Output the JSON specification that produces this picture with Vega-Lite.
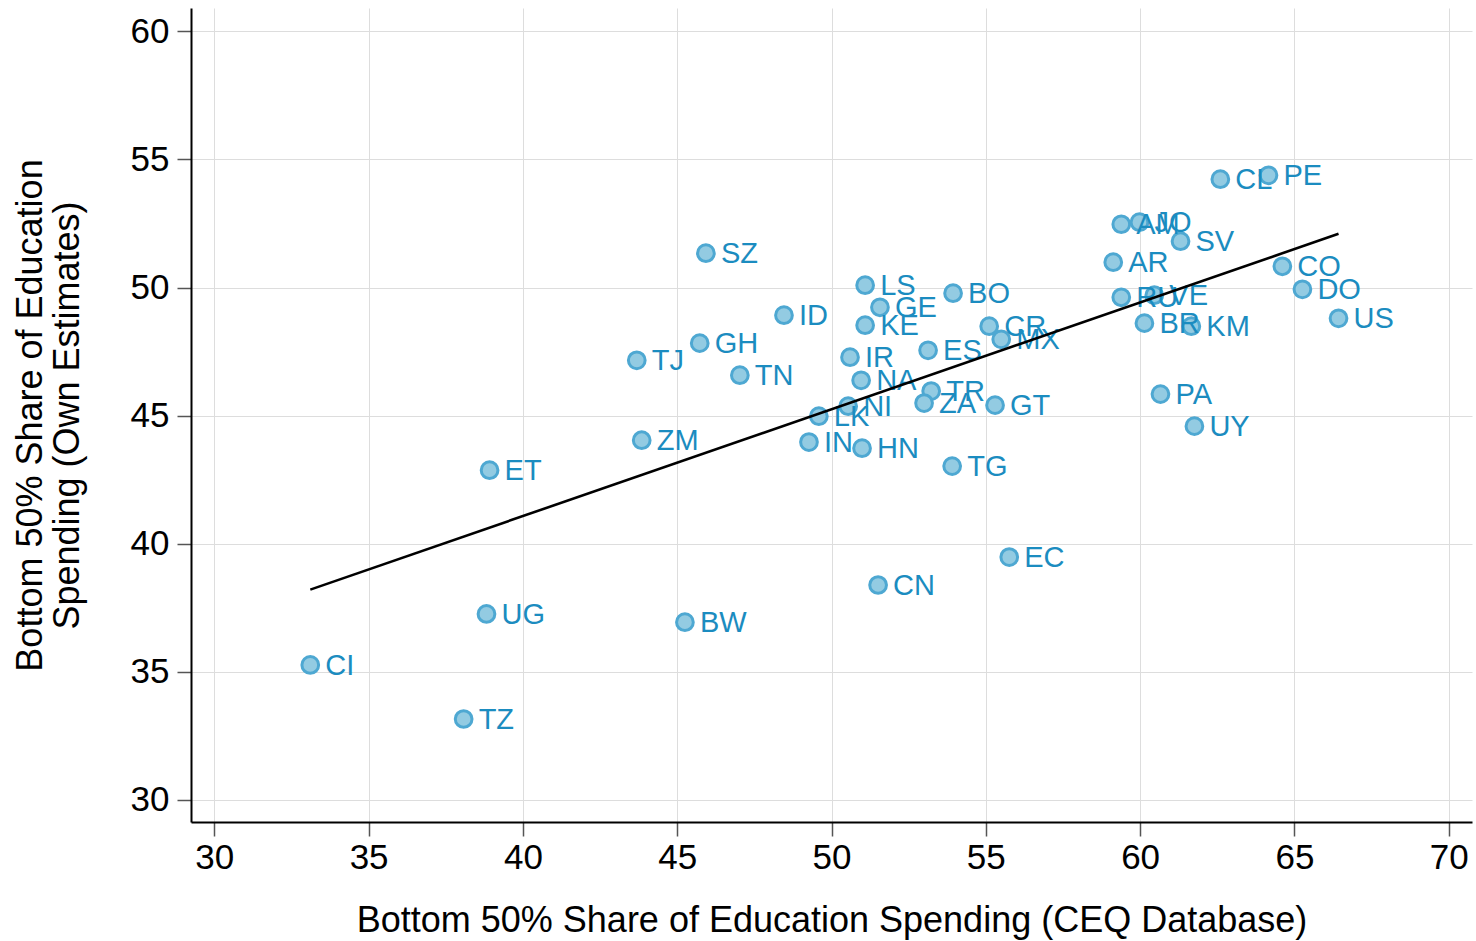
{
  "$schema": "https://vega.github.io/schema/vega-lite/v6.json",
  "autosize": "none",
  "padding": {"left": 191, "top": 8, "right": 4, "bottom": 119},
  "width": 1281,
  "height": 814,
  "background": "white",
  "config": {
    "font": "Liberation Sans",
    "view": {"stroke": null},
    "axis": {
      "domainColor": "black",
      "domainWidth": 2,
      "tickColor": "#555555",
      "tickWidth": 1.5,
      "tickSize": 14,
      "gridColor": "#dddddd",
      "gridWidth": 1,
      "labelFont": "Liberation Sans",
      "labelFontSize": 35,
      "labelColor": "black",
      "titleFont": "Liberation Sans",
      "titleFontSize": 36,
      "titleFontWeight": "normal",
      "titleColor": "black"
    }
  },
  "data": {
    "values": [
      {"code": "CI", "ceq": 33.11, "own": 35.27},
      {"code": "TZ", "ceq": 38.08, "own": 33.16},
      {"code": "UG", "ceq": 38.82, "own": 37.26},
      {"code": "ET", "ceq": 38.92, "own": 42.87},
      {"code": "BW", "ceq": 45.25, "own": 36.94},
      {"code": "ZM", "ceq": 43.85, "own": 44.04},
      {"code": "TJ", "ceq": 43.69, "own": 47.16},
      {"code": "GH", "ceq": 45.73, "own": 47.83},
      {"code": "SZ", "ceq": 45.93, "own": 51.34},
      {"code": "TN", "ceq": 47.03, "own": 46.58},
      {"code": "ID", "ceq": 48.46, "own": 48.92},
      {"code": "LS", "ceq": 51.09, "own": 50.09},
      {"code": "GE", "ceq": 51.57, "own": 49.23},
      {"code": "KE", "ceq": 51.09, "own": 48.53},
      {"code": "IR", "ceq": 50.6, "own": 47.28},
      {"code": "NA", "ceq": 50.96, "own": 46.38},
      {"code": "NI", "ceq": 50.54, "own": 45.37},
      {"code": "LK", "ceq": 49.59, "own": 44.98},
      {"code": "IN", "ceq": 49.27, "own": 43.97},
      {"code": "HN", "ceq": 50.99, "own": 43.73},
      {"code": "TG", "ceq": 53.91, "own": 43.03},
      {"code": "BO", "ceq": 53.94, "own": 49.78},
      {"code": "ES", "ceq": 53.13, "own": 47.55},
      {"code": "TR", "ceq": 53.23, "own": 45.96},
      {"code": "ZA", "ceq": 53.0, "own": 45.49},
      {"code": "CR", "ceq": 55.11, "own": 48.49},
      {"code": "MX", "ceq": 55.5, "own": 47.98},
      {"code": "GT", "ceq": 55.3, "own": 45.41},
      {"code": "EC", "ceq": 55.76, "own": 39.48},
      {"code": "CN", "ceq": 51.51, "own": 38.39},
      {"code": "AR", "ceq": 59.13, "own": 50.99},
      {"code": "AM", "ceq": 59.39, "own": 52.47},
      {"code": "JO", "ceq": 59.98, "own": 52.55},
      {"code": "SV", "ceq": 61.31, "own": 51.81},
      {"code": "RU", "ceq": 59.39, "own": 49.62},
      {"code": "VE", "ceq": 60.46, "own": 49.7},
      {"code": "BR", "ceq": 60.14, "own": 48.61},
      {"code": "KM", "ceq": 61.66, "own": 48.49},
      {"code": "PA", "ceq": 60.66, "own": 45.84},
      {"code": "UY", "ceq": 61.76, "own": 44.59},
      {"code": "CL", "ceq": 62.6, "own": 54.23},
      {"code": "PE", "ceq": 64.16, "own": 54.38},
      {"code": "CO", "ceq": 64.61, "own": 50.83},
      {"code": "DO", "ceq": 65.26, "own": 49.93},
      {"code": "US", "ceq": 66.43, "own": 48.8}
    ]
  },
  "encoding": {
    "x": {
      "field": "ceq",
      "type": "quantitative",
      "scale": {"domain": [29.245, 70.755], "nice": false, "zero": false},
      "axis": {
        "values": [30, 35, 40, 45, 50, 55, 60, 65, 70],
        "title": "Bottom 50% Share of Education Spending (CEQ Database)",
        "labelPadding": 4,
        "titlePadding": 28
      }
    },
    "y": {
      "field": "own",
      "type": "quantitative",
      "scale": {"domain": [29.14, 60.91], "nice": false, "zero": false},
      "axis": {
        "values": [30, 35, 40, 45, 50, 55, 60],
        "title": ["Bottom 50% Share of Education", "Spending (Own Estimates)"],
        "labelPadding": 8,
        "titlePadding": 44,
        "titleLineHeight": 37
      }
    }
  },
  "layer": [
    {
      "mark": {"type": "point", "shape": "circle", "filled": true, "size": 280, "fill": "#93cbe2", "stroke": "#4ea8d2", "strokeWidth": 3, "opacity": 1}
    },
    {
      "mark": {"type": "text", "align": "left", "baseline": "middle", "dx": 15, "dy": 1, "fontSize": 29, "color": "#1b8cc0", "font": "Liberation Sans"},
      "encoding": {"text": {"field": "code"}}
    },
    {
      "transform": [{"regression": "own", "on": "ceq"}],
      "mark": {"type": "line", "color": "black", "strokeWidth": 2.6},
      "encoding": {}
    }
  ]
}
